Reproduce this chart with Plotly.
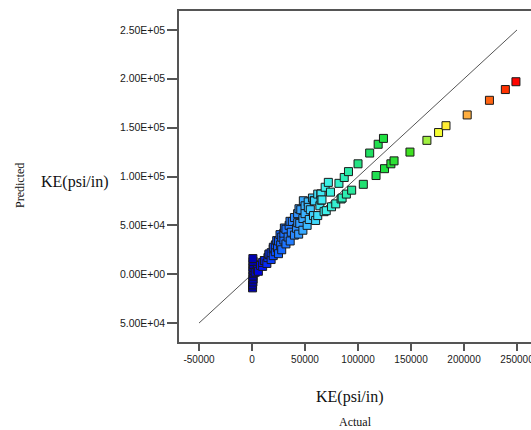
import plotly.graph_objects as go

# Actual vs predicted KE(psi/in)
actual = [500, 500, 800, 1000, 800, 1200, 1000, 800, 1200, 1000, 800,
          3000, 5000, 6000, 8000, 10000, 10000, 11600, 12000, 14000, 15000, 16000,
          16000, 18000, 18000, 20000, 20000, 20100, 22000, 22000, 23300, 24000, 25000, 25000,
          26400, 27000, 28000, 28000, 30000, 30000, 30500, 32000, 32000, 34000, 35000,
          35800, 36000, 37000, 38000, 40000, 40000, 42000, 43000, 43100, 44000, 44300,
          45000, 46000, 48000, 48000, 48400, 50000, 50000, 52000, 53000, 53100, 54000,
          55000, 57000, 58000, 58500, 59000, 60000, 62000, 62000, 64000, 65000, 65100,
          65100, 66000, 68000, 69000, 70000, 72000, 74000,
          75000, 79000, 82000, 84000, 85000, 87000, 89000, 91000, 94000, 100000,
          105000, 111000, 117000, 119000, 124000, 125000, 131000, 134000, 149000,
          165000, 176000, 183000, 203000, 224000, 239000, 249000]
predicted = [-14000, -11000, -8000, -5000, -2000, 1000, 4000, 7000, 10000, 13000, 16000,
             2000, 5000, 3000, 9000, 8000, 12000, 14000, 14000, 11000, 17000, 20000,
             20700, 15000, 22000, 19000, 26000, 27600, 23000, 30000, 34400, 27000, 21000, 34000,
             40500, 30000, 25000, 38000, 35000, 42000, 47300, 31000, 46000, 38000, 50000,
             54100, 34000, 43000, 54000, 40000, 58000, 47000, 62000, 52700, 41000, 67000,
             52000, 66000, 45000, 57000, 75200, 70000, 62000, 50000, 74000, 68400, 56000,
             66000, 78000, 60000, 75200, 75000, 55000, 60000, 82000, 70000, 82000, 82000,
             75800, 76000, 64000, 89000, 65000, 94000, 84000,
             69000, 72000, 93000, 77000, 78000, 99000, 82000, 105000, 86000, 113000,
             92000, 124000, 101000, 133000, 139000, 108000, 113000, 116000, 125000,
             137000, 145000, 152000, 163000, 178000, 189000, 197000]

fit_line = [-50000, 250000]

y_tickvals = [-50000, 0, 50000, 100000, 150000, 200000, 250000]
y_ticktext = ["5.00E+04", "0.00E+00", "5.00E+04", "1.00E+05", "1.50E+05", "2.00E+05", "2.50E+05"]
x_tickvals = [-50000, 0, 50000, 100000, 150000, 200000, 250000]
x_ticktext = ["-50000", "0", "50000", "100000", "150000", "200000", "250000"]

colorscale = [
    [0.0, "#0000a8"], [0.03, "#0008f0"], [0.1, "#1060ff"], [0.17, "#3090ff"],
    [0.22, "#40c8ff"], [0.27, "#40f0f0"], [0.34, "#30f0c0"], [0.42, "#20e070"],
    [0.5, "#20e040"], [0.6, "#40e020"], [0.66, "#a0f040"], [0.71, "#ffff30"],
    [0.81, "#ffb040"], [0.9, "#ff6010"], [0.96, "#ff3000"], [1.0, "#ff0000"],
]

fig = go.Figure()
fig.add_trace(go.Scatter(x=fit_line, y=fit_line, mode="lines",
                         line=dict(color="#555555", width=1), showlegend=False,
                         hoverinfo="skip"))
fig.add_trace(go.Scatter(
    x=actual, y=predicted, mode="markers", showlegend=False,
    marker=dict(symbol="square", size=8, color=actual, colorscale=colorscale,
                cmin=0, cmax=250000, line=dict(color="#1a1a1a", width=1))))

x_font = dict(family="Liberation Sans, Arial, sans-serif", size=10, color="#1a1a1a")
y_font = dict(family="Liberation Sans, Arial, sans-serif", size=10.5, color="#1a1a1a")

fig.update_layout(
    width=531, height=430,
    margin=dict(l=179, r=0, t=11, b=88),
    paper_bgcolor="white", plot_bgcolor="white",
    xaxis=dict(range=[-68900, 263200], tickvals=x_tickvals, ticktext=x_ticktext,
               showgrid=False, zeroline=False, showline=True, linecolor="#555555",
               linewidth=1.5, mirror=True, ticks="outside", ticklen=7,
               tickcolor="#555555", tickwidth=1.5, tickfont=x_font,
               automargin=False, ticklabeloverflow="allow"),
    yaxis=dict(range=[-69400, 269400], tickvals=y_tickvals, ticktext=y_ticktext,
               showgrid=False, zeroline=False, showline=True, linecolor="#555555",
               linewidth=1.5, ticks="outside", ticklen=10, tickcolor="#555555",
               tickwidth=1.5, tickfont=y_font, automargin=False,
               ticklabeloverflow="allow"),
)

serif = "Liberation Serif, Times New Roman, serif"
fig.add_annotation(x=75, y=182, xref="paper", yref="paper", text="KE(psi/in)",
                   showarrow=False, font=dict(family=serif, size=16, color="#111"))
fig.add_annotation(text="Predicted", textangle=-90, showarrow=False,
                   font=dict(family=serif, size=12, color="#111"),
                   xref="paper", yref="paper", x=20, y=186)
fig.add_annotation(text="KE(psi/in)", showarrow=False,
                   font=dict(family=serif, size=16, color="#111"),
                   xref="paper", yref="paper", x=350, y=397)
fig.add_annotation(text="Actual", showarrow=False,
                   font=dict(family=serif, size=12, color="#111"),
                   xref="paper", yref="paper", x=355, y=422)

# convert pixel positions of annotations to paper coordinates
pw = 531 - 179 - 0
ph = 430 - 11 - 88
for ann in fig.layout.annotations:
    px, py = ann.x, ann.y
    ann.x = (px - 179) / pw
    ann.y = (430 - 88 - py) / ph
    ann.xanchor = "center"
    ann.yanchor = "middle"

fig.write_html("out.html", config={"displayModeBar": False},
               post_script="document.body.style.margin='0';document.body.style.overflow='hidden';")
